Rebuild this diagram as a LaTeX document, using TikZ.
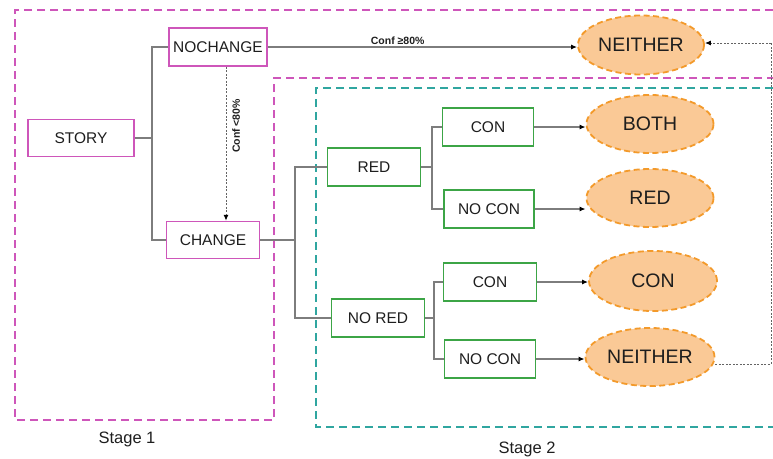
\documentclass[tikz,border=0pt]{standalone}
\usepackage{fontspec}
\setmainfont{Liberation Sans}
\usetikzlibrary{arrows.meta,calc,shapes.geometric}
\definecolor{pinkd}{RGB}{206,86,186}
\definecolor{teald}{RGB}{48,166,160}
\definecolor{greenb}{RGB}{60,165,70}
\definecolor{orfill}{RGB}{250,201,150}
\definecolor{orline}{RGB}{243,154,43}
\definecolor{conn}{RGB}{125,125,125}
\definecolor{txt}{RGB}{30,30,30}
\tikzset{
  stageone/.style={draw=pinkd,line width=2pt,dash pattern=on 8pt off 5pt},
  stagetwo/.style={draw=teald,line width=1.6pt,dash pattern=on 8pt off 5pt},
  pinkbox/.style={draw=pinkd,line width=1.5pt,minimum height=37pt,inner sep=0pt,text=txt,font=\fontsize{15.5}{17}\selectfont},
  greenbox/.style={draw=greenb,line width=1.5pt,minimum width=92pt,minimum height=38pt,inner sep=0pt,text=txt,font=\fontsize{15.5}{17}\selectfont},
  outcome/.style={ellipse,fill=orfill,draw=orline,line width=1.8pt,dash pattern=on 6pt off 3.5pt,minimum width=127pt,minimum height=58pt,inner sep=0pt,text=txt,font=\fontsize{19.5}{21}\selectfont},
  link/.style={draw=conn,line width=1.4pt},
  arr/.style={draw=conn,line width=1.4pt,-{Latex[length=6pt,width=5pt,color=black]}},
  fb/.style={draw=conn!80!black,line width=1pt,dash pattern=on 2pt off 1.5pt},
  small/.style={font=\bfseries\fontsize{10.5}{12}\selectfont,text=txt,inner sep=1pt},
  stagelbl/.style={font=\fontsize{16.5}{18}\selectfont,text=txt},
}
\begin{document}
\begin{tikzpicture}[x=1pt,y=-1pt]
\useasboundingbox (0,0) rectangle (773,458);
% stage outlines
\draw[stageone] (773,10) -- (15,10) -- (15,420) -- (274,420) -- (274,78) -- (773,78);
\draw[stagetwo] (773,88) -- (316,88) -- (316,427) -- (773,427);
% nodes
\node[pinkbox,minimum width=106pt] (story) at (81,138) {STORY};
\node[pinkbox,minimum width=98pt,minimum height=38pt] (nochange) at (218,47) {NOCHANGE};
\node[pinkbox,minimum width=93pt] (change) at (213,240) {CHANGE};
\node[greenbox,minimum width=93pt] (red) at (374,167) {RED};
\node[greenbox,minimum width=93pt] (nored) at (378,318) {NO RED};
\node[greenbox,minimum width=91pt] (con1) at (488,127) {CON};
\node[greenbox,minimum width=90pt] (nocon1) at (489,209) {NO CON};
\node[greenbox,minimum width=93pt] (con2) at (490,282) {CON};
\node[greenbox,minimum width=91pt] (nocon2) at (490,359) {NO CON};
\node[outcome,minimum width=126pt,minimum height=59pt] (neitherT) at (641,45) {NEITHER};
\node[outcome] (both) at (650,124) {BOTH};
\node[outcome] (redo) at (650,198) {RED};
\node[outcome,minimum width=128pt,minimum height=60pt] (cono) at (653,281) {CON};
\node[outcome,minimum width=129pt] (neitherB) at (650,357) {NEITHER};
% tree links
\coordinate (j1) at (152,138);
\draw[link] (story.east) -- (j1) |- (nochange.west);
\draw[link] (j1) |- (change.west);
\coordinate (j2) at (295,240);
\draw[link] (change.east) -- (j2) |- (red.west);
\draw[link] (j2) |- (nored.west);
\coordinate (j3) at (432,167);
\draw[link] (red.east) -- (j3) |- (con1.west);
\draw[link] (j3) |- (nocon1.west);
\coordinate (j4) at (434,318);
\draw[link] (nored.east) -- (j4) |- (con2.west);
\draw[link] (j4) |- (nocon2.west);
% arrows to outcomes
\draw[arr] (nochange.east) -- (nochange.east -| neitherT.west) node[small,pos=0.42,above=1pt] {Conf ≥80\%};
\draw[arr] (con1.east) -- (con1.east -| both.west);
\draw[arr] (nocon1.east) -- (nocon1.east -| redo.west);
\draw[arr] (con2.east) -- (con2.east -| cono.west);
\draw[arr] (nocon2.east) -- (nocon2.east -| neitherB.west);
% confidence < 80
\coordinate (d1) at ($(nochange.south)+(8,0)$);
\draw[fb,-{Latex[length=6pt,width=5pt,color=black]}] (d1) -- (d1 |- change.north);
\node[small,rotate=90] (lowconf) at (236,126) {Conf <80\%};
% feedback
\coordinate (fb1) at (771,364);
\coordinate (fb2) at (771,43);
\draw[fb] ($(neitherB.east)+(0,7)$) -- (fb1) -- (fb2);
\draw[fb,-{Latex[length=6pt,width=5pt,color=black]}] (fb2) -- (fb2 -| neitherT.east);
% stage labels
\node[stagelbl] (s1) at (127,439) {Stage 1};
\node[stagelbl] (s2) at (527,449) {Stage 2};
\end{tikzpicture}
\end{document}
